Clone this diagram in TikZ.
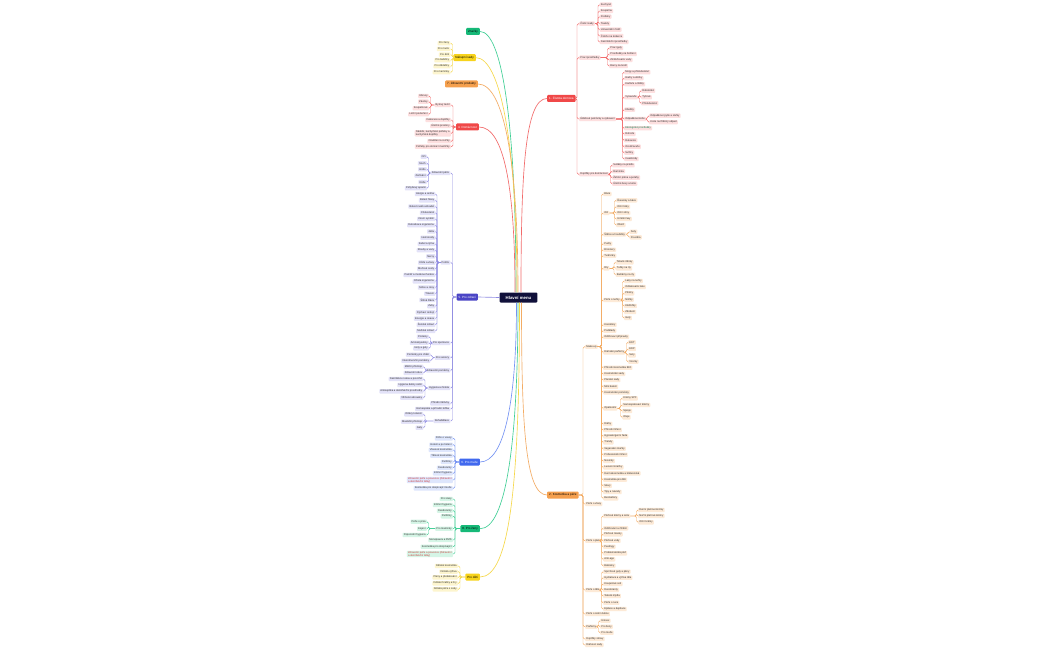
\documentclass[tikz,border=0pt]{standalone}
\usepackage{fontspec}
\setmainfont{Liberation Sans}
\usepackage{xcolor}
\usepackage{tikz}
\usetikzlibrary{calc}

\definecolor{hmNavy}{HTML}{10103A}
\definecolor{gMain}{HTML}{16B978}
\definecolor{gLine}{HTML}{3FCF95}
\definecolor{gLeaf}{HTML}{D5F5E6}
\definecolor{yMain}{HTML}{F7D31C}
\definecolor{yLine}{HTML}{F6D84A}
\definecolor{yLeaf}{HTML}{FDF5CE}
\definecolor{oMain}{HTML}{F5A04E}
\definecolor{oLine}{HTML}{F3AC64}
\definecolor{oLeaf}{HTML}{FDEAD7}
\definecolor{rMain}{HTML}{F04848}
\definecolor{rLine}{HTML}{F26B6B}
\definecolor{rLeaf}{HTML}{FDDFDF}
\definecolor{pMain}{HTML}{4B45C6}
\definecolor{pLine}{HTML}{8F8BE2}
\definecolor{pLeaf}{HTML}{E3E2F8}
\definecolor{bMain}{HTML}{4169EE}
\definecolor{bLine}{HTML}{7593F3}
\definecolor{bLeaf}{HTML}{DEE6FC}

\tikzset{
  leaf/.style={rounded corners=0.8pt, inner xsep=1.2pt, inner ysep=0.5pt, minimum height=4.4pt,
    font=\fontsize{2.6}{3}\selectfont, text=black!80},
  topic/.style={rounded corners=1pt, inner xsep=2pt, inner ysep=1pt, minimum height=7pt,
    font=\fontsize{3}{3.5}\selectfont},
  link/.style={line width=0.45pt, rounded corners=1.5pt},
  branch/.style={line width=0.65pt},
  gleaf/.style={leaf, fill=gLeaf}, yleaf/.style={leaf, fill=yLeaf},
  oleaf/.style={leaf, fill=oLeaf}, rleaf/.style={leaf, fill=rLeaf},
  pleaf/.style={leaf, fill=pLeaf}, bleaf/.style={leaf, fill=bLeaf}
}

\begin{document}
\begin{tikzpicture}[x=1pt, y=-1pt]
  \fill[white] (0,0) rectangle (1050,650);
  \useasboundingbox (0,0) rectangle (1050,650);

  % centre
  \node[fill=hmNavy, text=white, rounded corners=1pt, inner xsep=6pt, minimum height=10pt,
    font=\fontsize{4.3}{5}\selectfont\bfseries] (hm) at (518.5,297.5) {Hlavní menu};

  % main topics
  \node[topic, fill=gMain, anchor=east] (zn) at (480,31.5) {Značky};
  \node[topic, fill=yMain, anchor=east] (ns) at (476,57.7) {Nákupní sady};
  \node[topic, fill=oMain, anchor=east] (zp) at (478,84) {7. Zdravotní produkty};
  \node[topic, fill=rMain, text=white, anchor=east] (dom) at (479,127) {4. Domácnost};
  \node[topic, fill=pMain, text=white, anchor=east] (zdr) at (478,297) {5. Pro zdraví};
  \node[topic, fill=bMain, text=white, anchor=east] (muz) at (480,462) {6. Pro muže};
  \node[topic, fill=gMain, anchor=east] (zen) at (480,528.7) {8. Pro ženy};
  \node[topic, fill=yMain, anchor=east] (deti) at (480,577) {Pro děti};
  \node[topic, fill=rMain, text=white, anchor=west] (dro) at (547,98.5) {1. Čistota domova};
  \node[topic, fill=oMain, anchor=west] (kos) at (547,495) {2. Kosmetika a péče};

  \draw[branch, gLine] (zn.east) .. controls +(22,0) and +(0,-170) .. ([xshift=-2.5pt]hm.north);
  \draw[branch, yLine] (ns.east) .. controls +(24,0) and +(0,-150) .. ([xshift=-1.5pt]hm.north);
  \draw[branch, oLine] (zp.east) .. controls +(26,0) and +(0,-130) .. ([xshift=-0.5pt]hm.north);
  \draw[branch, rLine] (dom.east) .. controls +(26,0) and +(0,-100) .. ([xshift=-3.5pt]hm.north);
  \draw[branch, rLine] (dro.west) .. controls +(-22,0) and +(0,-120) .. ([xshift=2.5pt]hm.north);
  \draw[branch, pLine] (zdr.east) -- (hm.west);
  \draw[branch, bLine] (muz.east) .. controls +(24,0) and +(0,100) .. ([xshift=-2pt]hm.south);
  \draw[branch, gLine] (zen.east) .. controls +(26,0) and +(0,140) .. ([xshift=-0.5pt]hm.south);
  \draw[branch, yLine] (deti.east) .. controls +(30,0) and +(0,180) .. ([xshift=1pt]hm.south);
  \draw[branch, oLine] (kos.west) .. controls +(-22,0) and +(0,120) .. ([xshift=3pt]hm.south);

  % Nakupni sady
  \foreach \yy/\lab [count=\i] in {43.3/Pro ženy, 49/Pro muže, 54.7/Pro děti, 60.3/Pro babičky,
      66.3/Pro dědečky, 72.3/Pro maminky}{
    \node[yleaf, anchor=east] (ns\i) at (450.5,\yy) {\lab};
    \draw[link, yLine] (ns\i.east) -- ++(2,0) |- (ns.west);
  }

  % 4. Domacnost
  \node[rleaf, anchor=east] (dbyt) at (451,105) {Bytový textil};
  \draw[link, rLine] (dbyt.east) -- ++(2,0) |- (dom.west);
  \foreach \yy/\lab [count=\i] in {96/Ubrusy, 101.7/Závěsy, 108.3/Koupelnové, 114.3/Ložní povlečení}{
    \node[rleaf, anchor=east] (dbyt\i) at (429,\yy) {\lab};
    \draw[link, rLine] (dbyt\i.east) -- ++(1.5,0) |- (dbyt.west);
  }
  \foreach \yy/\lab [count=\i] in {120/Dekorace a doplňky, 126/Úložné prostory,
      141.3/Osvětlení a svíčky, 146.7/Potřeby pro domácí mazlíčky}{
    \node[rleaf, anchor=east] (dlf\i) at (451,\yy) {\lab};
    \draw[link, rLine] (dlf\i.east) -- ++(2,0) |- (dom.west);
  }
  \node[rleaf, anchor=east, align=left] (dnad) at (451,133.3) {Nádobí, kuchyňské potřeby a\\kuchyňské doplňky};
  \draw[link, rLine] (dnad.east) -- ++(2,0) |- (dom.west);

  % 5. Pro zdravi
  \node[pleaf, anchor=east] (zA) at (450.5,173) {Zdravotní péče};
  \node[pleaf, anchor=east] (zB) at (450.5,262.5) {Potíže};
  \node[pleaf, anchor=east] (zC) at (450.5,343) {Pro sportovce};
  \node[pleaf, anchor=east] (zD) at (450.5,357.7) {Pro seniory};
  \node[pleaf, anchor=east] (zE) at (450.5,370.3) {Zdravotní pomůcky};
  \node[pleaf, anchor=east] (zF) at (450.5,388) {Hygiena a čistota};
  \node[pleaf, anchor=east] (zG) at (450.5,403.3) {Přírodní léčivky};
  \node[pleaf, anchor=east] (zH) at (450.5,409) {Homeopatie a přírodní léčba};
  \node[pleaf, anchor=east] (zI) at (450.5,421) {Rehabilitace};
  \foreach \n in {zA,zB,zC,zD,zE,zF,zG,zH,zI}
    \draw[link, pLine] (\n.east) -- ++(2,0) |- (zdr.west);
  \foreach \yy/\lab [count=\i] in {156.7/Oči, 163.3/Sluch, 169.3/Hrdlo, 175.7/Zažívání, 182/Kůže,
      188.3/Pohybový aparát}{
    \node[pleaf, anchor=east] (zA\i) at (427,\yy) {\lab};
    \draw[link, pLine] (zA\i.east) -- ++(1.5,0) |- (zA.west);
  }
  \foreach \yy/\lab [count=\i] in {194/Alergie a astma, 200.3/Bolest hlavy, 206.5/Bolest svalů a kloubů,
      212.8/Cholesterol, 219/Cévní systém, 225.2/Detoxikace organismu, 231.5/Játra, 237.7/Hemoroidy,
      244/Kašel a rýma, 250.2/Klouby a vazy, 256.4/Nervy, 262.6/Kůže a vlasy, 268.8/Močové cesty,
      275/Paměť a mozkové funkce, 281.3/Očista organismu, 287.5/Srdce a cévy, 293.7/Trávení,
      300/Štítná žláza, 306.2/Zuby, 312.4/Dýchací ústrojí, 318.6/Energie a únava,
      324.8/Ženské zdraví, 331/Mužské zdraví}{
    \node[pleaf, anchor=east] (zB\i) at (435.5,\yy) {\lab};
    \draw[link, pLine] (zB\i.east) -- ++(1.5,0) |- (zB.west);
  }
  \foreach \yy/\lab [count=\i] in {336.7/Proteiny, 342.7/Aminokyseliny, 348.3/Ionty a gely}{
    \node[pleaf, anchor=east] (zC\i) at (429,\yy) {\lab};
    \draw[link, pLine] (zC\i.east) -- ++(1.5,0) |- (zC.west);
  }
  \foreach \yy/\lab [count=\i] in {354.7/Pomůcky pro chůzi, 360.7/Inkontinenční pomůcky}{
    \node[pleaf, anchor=east] (zD\i) at (430.5,\yy) {\lab};
    \draw[link, pLine] (zD\i.east) -- ++(1.5,0) |- (zD.west);
  }
  \foreach \yy/\lab [count=\i] in {366.7/Měřicí přístroje, 373/Zdravotní obuv}{
    \node[pleaf, anchor=east] (zE\i) at (423.5,\yy) {\lab};
    \draw[link, pLine] (zE\i.east) -- ++(1.5,0) |- (zE.west);
  }
  \foreach \yy/\lab [count=\i] in {379/Dezinfekce rukou a povrchů, 385/Hygiena dutiny ústní,
      391.3/Antiseptika a dezinfekční prostředky, 397.7/Vlhčené ubrousky}{
    \node[pleaf, anchor=east] (zF\i) at (423.5,\yy) {\lab};
    \draw[link, pLine] (zF\i.east) -- ++(1.5,0) |- (zF.west);
  }
  \foreach \yy/\lab [count=\i] in {414.3/Ortézy kolenní, 421.7/Masážní přístroje, 427.7/Gely}{
    \node[pleaf, anchor=east] (zI\i) at (423.5,\yy) {\lab};
    \draw[link, pLine] (zI\i.east) -- ++(1.5,0) |- (zI.west);
  }

  % 6. Pro muze
  \foreach \yy/\lab [count=\i] in {438.3/Péče o vousy, 444.7/Holení a po holení, 450/Vlasová kosmetika,
      455.7/Tělová kosmetika, 462/Parfémy, 467.7/Deodoranty, 473.3/Intimní hygiena,
      488.3/Kosmetika pro dospívající muže}{
    \node[bleaf, anchor=east] (mu\i) at (453,\yy) {\lab};
    \draw[link, bLine] (mu\i.east) -- ++(2,0) |- (muz.west);
  }
  \node[bleaf, anchor=east, align=left, text=rMain!85!black] (muzp) at (453,480)
    {Zdravotní péče a prevence (Zdravotní\\a dezinfekční látky)};
  \draw[link, bLine] (muzp.east) -- ++(2,0) |- (muz.west);

  % 8. Pro zeny
  \foreach \yy/\lab [count=\i] in {499/Pro vlasy, 505/Intimní hygiena, 510.7/Deodoranty, 516.3/Parfémy,
      540/Menopauza a PMS, 546.7/Kosmetika pro dospívající}{
    \node[gleaf, anchor=east] (ze\i) at (453,\yy) {\lab};
    \draw[link, gLine] (ze\i.east) -- ++(2,0) |- (zen.west);
  }
  \node[gleaf, anchor=east] (zmam) at (453,528.7) {Pro maminky};
  \draw[link, gLine] (zmam.east) -- ++(2,0) |- (zen.west);
  \foreach \yy/\lab [count=\i] in {521.7/Péče o prsa, 528.7/Kojení, 535/Poporodní hygiena}{
    \node[gleaf, anchor=east] (zmam\i) at (427,\yy) {\lab};
    \draw[link, gLine] (zmam\i.east) -- ++(1.5,0) |- (zmam.west);
  }
  \node[gleaf, anchor=east, align=left, text=rMain!85!black] (zenp) at (453,554)
    {Zdravotní péče a prevence (Zdravotní\\a dezinfekční látky)};
  \draw[link, gLine] (zenp.east) -- ++(2,0) |- (zen.west);

  % Pro deti
  \foreach \yy/\lab [count=\i] in {566/Dětská kosmetika, 571.7/Dětská výživa, 577.3/Pleny a přebalování,
      583.3/Dětské hračky a hry, 589.3/Dětská péče o zuby}{
    \node[yleaf, anchor=east] (de\i) at (458,\yy) {\lab};
    \draw[link, yLine] (de\i.east) -- ++(2,0) |- (deti.west);
  }

  % 1. Cistota domova
  \node[rleaf, anchor=west] (dcs) at (579,23.7) {Čisticí sady};
  \node[rleaf, anchor=west] (dpr) at (579,57.7) {Prací prostředky};
  \node[rleaf, anchor=west] (duk) at (579,119) {Úklidové pomůcky a vybavení};
  \node[rleaf, anchor=west] (ddo) at (579,174.3) {Doplňky pro domácnost};
  \foreach \n in {dcs,dpr,duk,ddo}
    \draw[link, rLine] (\n.west) -- ++(-2,0) |- (dro.east);
  \foreach \yy/\lab [count=\i] in {4.7/Kuchyně, 11/Koupelna, 16.7/Podlahy, 23.7/Toalety,
      29.7/Univerzální čistič, 36/Čističe na koberce, 42/Dezinfekční prostředky}{
    \node[rleaf, anchor=west] (dcs\i) at (599.5,\yy) {\lab};
    \draw[link, rLine] (dcs\i.west) -- ++(-1.5,0) |- (dcs.east);
  }
  \foreach \yy/\lab [count=\i] in {48/Prací gely, 54/Prostředky na žehlení, 60/Změkčovače vody,
      66/Barvy na textil}{
    \node[rleaf, anchor=west] (dpr\i) at (609,\yy) {\lab};
    \draw[link, rLine] (dpr\i.west) -- ++(-1.5,0) |- (dpr.east);
  }
  \foreach \yy/\lab [count=\i] in {72.3/Mopy a příslušenství, 78.3/Hadry a utěrky, 84.3/Kartáče a štětky,
      109.7/Kbelíky, 134/Rohože, 140.3/Rukavice, 146.7/Osvěžovače, 152.7/Svíčky, 159/Insekticidy}{
    \node[rleaf, anchor=west] (duk\i) at (624,\yy) {\lab};
    \draw[link, rLine] (duk\i.west) -- ++(-1.5,0) |- (duk.east);
  }
  \node[rleaf, anchor=west] (dvys) at (624,97.3) {Vysavače};
  \node[rleaf, anchor=west] (dkos) at (624,119) {Odpadkové koše};
  \node[rleaf, anchor=west, text=gMain!70!black] (deko) at (624,128.3) {Ekologické prostředky};
  \foreach \n in {dvys,dkos,deko}
    \draw[link, rLine] (\n.west) -- ++(-1.5,0) |- (duk.east);
  \foreach \yy/\lab [count=\i] in {90.7/Robotické, 97.3/Tyčové, 103.3/Příslušenství}{
    \node[rleaf, anchor=west] (dvys\i) at (641,\yy) {\lab};
    \draw[link, rLine] (dvys\i.west) -- ++(-1.5,0) |- (dvys.east);
  }
  \foreach \yy/\lab [count=\i] in {115.7/Odpadkové pytle a sáčky, 122.3/Koše na tříděný odpad}{
    \node[rleaf, anchor=west] (dkos\i) at (649,\yy) {\lab};
    \draw[link, rLine] (dkos\i.west) -- ++(-1.5,0) |- (dkos.east);
  }
  \foreach \yy/\lab [count=\i] in {165.3/Sušáky na prádlo, 171.3/Ramínka, 177.7/Žehlicí prkna a potahy,
      183.7/Úložné boxy a koše}{
    \node[rleaf, anchor=west] (ddo\i) at (612,\yy) {\lab};
    \draw[link, rLine] (ddo\i.west) -- ++(-1.5,0) |- (ddo.east);
  }

  % 2. Kosmetika a pece
  \node[oleaf, anchor=west] (kmk) at (585,346.7) {Make-up};
  \node[oleaf, anchor=west] (kvl) at (585,504) {Péče o vlasy};
  \node[oleaf, anchor=west] (kpl) at (585,540.7) {Péče o pleť};
  \node[oleaf, anchor=west] (ktl) at (585,590) {Péče o tělo};
  \node[oleaf, anchor=west] (kus) at (585,614) {Péče o ústní dutinu};
  \node[oleaf, anchor=west] (kpf) at (585,626.7) {Parfémy};
  \node[oleaf, anchor=west] (kds) at (585,639) {Doplňky stravy};
  \node[oleaf, anchor=west] (kdr) at (585,645) {Dárkové sady};
  \foreach \n in {kmk,kvl,kpl,ktl,kus,kpf,kds,kdr}
    \draw[link, oLine] (\n.west) -- ++(-2,0) |- (kos.east);

  \foreach \yy/\lab [count=\i] in {194/Báze, 243.7/Pudry, 249.7/Bronzery, 255.7/Tvářenky,
      324.7/Korektory, 330.7/Podklady, 336.7/Odličovací přípravky, 367.7/Přírodní kosmetika BIO,
      374/Kosmetické sady, 380/Pánské sady, 386.7/Mini balení, 392.3/Kosmetické pomůcky,
      424/Dárky, 430/Přírodní líčení, 436.3/Hypoalergenní řada, 442.3/Trendy,
      448.7/Veganské značky, 454.7/Profesionální líčení, 461/Novinky, 467.3/Luxusní značky,
      473.3/Dermokosmetika a lékárenská, 479.7/Kosmetika pro děti, 485.7/Slevy,
      492/Tipy a návody, 498.3/Bestsellery}{
    \node[oleaf, anchor=west] (kmk\i) at (603,\yy) {\lab};
    \draw[link, oLine] (kmk\i.west) -- ++(-1.5,0) |- (kmk.east);
  }
  \node[oleaf, anchor=west] (koci) at (603,213) {Oči};
  \node[oleaf, anchor=west] (kste) at (603,234.3) {Štětce a houbičky};
  \node[oleaf, anchor=west] (krty) at (603,268.3) {Rty};
  \node[oleaf, anchor=west] (kneh) at (603,300) {Péče o nehty};
  \node[oleaf, anchor=west] (kdp) at (603,352.3) {Dámské parfémy};
  \node[oleaf, anchor=west] (kop) at (603,408.3) {Opalování};
  \foreach \n in {koci,kste,krty,kneh,kdp,kop}
    \draw[link, oLine] (\n.west) -- ++(-1.5,0) |- (kmk.east);
  \foreach \yy/\lab [count=\i] in {200.3/Řasenky a báze, 206.7/Oční linky, 213/Oční stíny,
      219/Umělé řasy, 225/Obočí}{
    \node[oleaf, anchor=west] (koci\i) at (616,\yy) {\lab};
    \draw[link, oLine] (koci\i.west) -- ++(-1.5,0) |- (koci.east);
  }
  \foreach \yy/\lab [count=\i] in {231.7/Sety, 237.3/Pouzdra}{
    \node[oleaf, anchor=west] (kste\i) at (629.5,\yy) {\lab};
    \draw[link, oLine] (kste\i.west) -- ++(-1.5,0) |- (kste.east);
  }
  \foreach \yy/\lab [count=\i] in {262.3/Tekuté rtěnky, 268.3/Tužky na rty, 274.7/Balzámy na rty}{
    \node[oleaf, anchor=west] (krty\i) at (615.5,\yy) {\lab};
    \draw[link, oLine] (krty\i.west) -- ++(-1.5,0) |- (krty.east);
  }
  \foreach \yy/\lab [count=\i] in {281/Laky na nehty, 287/Odlakovače laku, 293.3/Pilníky, 299.7/Nůžky,
      306/Kleštičky, 312/Zdobení, 318/Gely}{
    \node[oleaf, anchor=west] (kneh\i) at (624,\yy) {\lab};
    \draw[link, oLine] (kneh\i.west) -- ++(-1.5,0) |- (kneh.east);
  }
  \foreach \yy/\lab [count=\i] in {342.3/EDT, 349/EDP, 355.3/Sety, 361.7/Vzorky}{
    \node[oleaf, anchor=west] (kdp\i) at (628,\yy) {\lab};
    \draw[link, oLine] (kdp\i.west) -- ++(-1.5,0) |- (kdp.east);
  }
  \foreach \yy/\lab [count=\i] in {398.3/Krémy SPF, 405/Samoopalovací krémy, 411/Spreje, 417.3/Oleje}{
    \node[oleaf, anchor=west] (kop\i) at (622,\yy) {\lab};
    \draw[link, oLine] (kop\i.west) -- ++(-1.5,0) |- (kop.east);
  }

  \node[oleaf, anchor=west] (kkr) at (603,516) {Pleťové krémy a séra};
  \draw[link, oLine] (kkr.west) -- ++(-1.5,0) |- (kpl.east);
  \foreach \yy/\lab [count=\i] in {510/Denní pleťové krémy, 516/Noční pleťové krémy, 522.3/Oční krémy}{
    \node[oleaf, anchor=west] (kkr\i) at (638,\yy) {\lab};
    \draw[link, oLine] (kkr\i.west) -- ++(-1.5,0) |- (kkr.east);
  }
  \foreach \yy/\lab [count=\i] in {528.3/Odličování a čištění, 534.3/Pleťové masky, 540.7/Pleťové vody,
      546.7/Peelingy, 553.3/Problematická pleť, 559.3/Anti-age, 565.7/Balzámy}{
    \node[oleaf, anchor=west] (kpl\i) at (603,\yy) {\lab};
    \draw[link, oLine] (kpl\i.west) -- ++(-1.5,0) |- (kpl.east);
  }
  \foreach \yy/\lab [count=\i] in {571.7/Sprchové gely a pěny, 577.7/Hydratace a výživa těla,
      584/Koupelové soli, 590/Deodoranty, 596/Tekutá mýdla, 602.7/Péče o ruce, 609/Epilace a depilace}{
    \node[oleaf, anchor=west] (ktl\i) at (603,\yy) {\lab};
    \draw[link, oLine] (ktl\i.west) -- ++(-1.5,0) |- (ktl.east);
  }
  \foreach \yy/\lab [count=\i] in {620.7/Unisex, 626.7/Pro ženy, 632.7/Pro muže}{
    \node[oleaf, anchor=west] (kpf\i) at (600,\yy) {\lab};
    \draw[link, oLine] (kpf\i.west) -- ++(-1.5,0) |- (kpf.east);
  }
\end{tikzpicture}
\end{document}
